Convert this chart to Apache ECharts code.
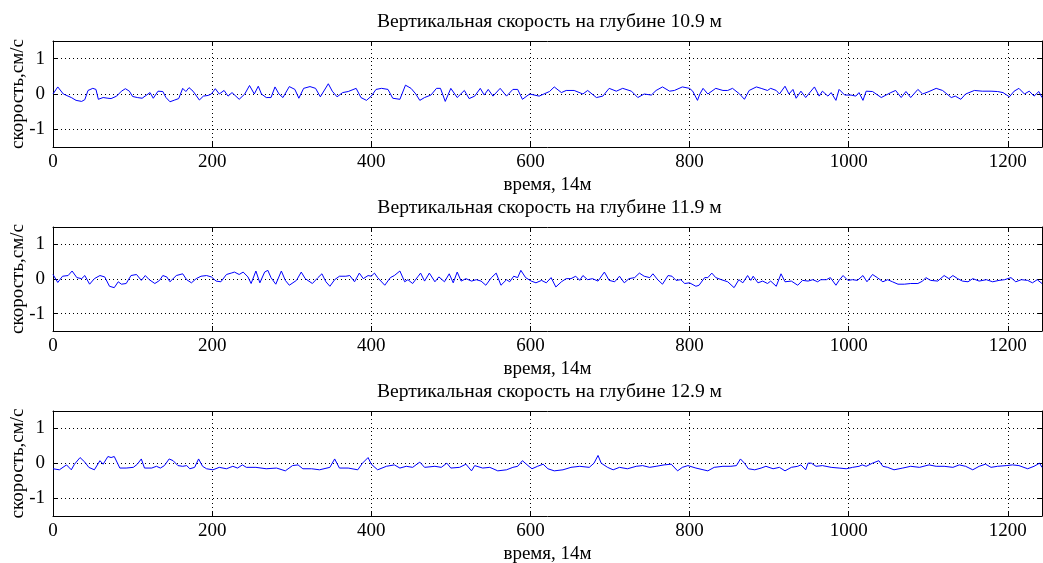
<!DOCTYPE html>
<html>
<head>
<meta charset="utf-8">
<script src="https://cdn.jsdelivr.net/npm/echarts@6/dist/echarts.min.js"></script>
<style>
html,body{margin:0;padding:0;background:#fff;}
#chart{width:1043px;height:563px;}
</style>
</head>
<body>
<div id="chart"></div>
<script>
const titles = ['Вертикальная скорость на глубине 10.9 м','Вертикальная скорость на глубине 11.9 м','Вертикальная скорость на глубине 12.9 м'];
const xName = 'время, 14м';
const yName = 'скорость,см/с';

const t1 = [0,6,13,16,23,29,36,40,44,50,54,57,63,69,73,80,86,91,96,100,106,112,117,122,126,132,138,142,147,153,158,163,167,171,176,184,189,195,199,204,209,215,220,225,234,241,247,253,258,262,268,274,279,284,289,297,304,309,315,323,330,336,346,351,357,364,371,381,387,394,400,406,413,421,427,436,443,450,456,461,467,475,482,487,493,500,508,517,523,530,537,542,547,553,562,570,578,584,590,599,611,624,630,639,645,655,666,672,683,691,699,708,716,727,735,743,752,758,766,775,781,791,800,804,810,813,817,823,833,842,848,854,863,869,875,884,890,898,902,909,913,920,925,930,934,940,946,957,963,967,974,978,984,988,995,1003,1009,1013,1018,1022,1030,1041,1047,1053,1059,1066,1072,1078,1087,1093,1101,1110,1118,1129,1134,1141,1147,1158,1168,1179,1187,1194,1202,1208,1214,1221,1227,1233,1239,1243];
const v1 = [0,0.2,0,-0.03,-0.1,-0.18,-0.21,-0.16,0.1,0.16,0.13,-0.15,-0.1,-0.12,-0.13,-0.06,0.08,0.15,0.08,-0.07,-0.1,-0.12,-0.04,0.04,-0.12,0.08,0.07,-0.1,-0.22,-0.17,-0.13,0.16,0.07,0.18,0.08,-0.17,-0.06,-0.04,0,0.15,0,0.1,-0.06,0.04,-0.15,0,0.24,0,0.22,0,-0.1,-0.1,0.2,0,-0.1,0.21,0.13,-0.12,0.16,0.21,0.16,-0.08,0.29,0.08,-0.08,0.04,0.07,0.16,-0.1,-0.18,-0.06,0.13,0.16,0.13,-0.12,-0.15,0.25,0.16,0,-0.18,-0.1,-0.03,0.16,0.16,-0.21,0.16,-0.1,0.1,-0.13,-0.06,0.16,-0.03,0.13,-0.06,0.16,-0.06,0.13,0.13,-0.15,0,-0.06,0.07,0.2,0.04,0.1,0.1,0,0.1,-0.1,-0.06,0.16,0.08,0.16,0.08,-0.1,0,-0.03,0.1,0.2,0.08,0.1,0.2,0.16,0.08,-0.18,0,0.16,0,0.16,0.1,0.1,0.16,0,-0.15,0.1,0.2,0.16,0.1,0.16,0.1,0,0.22,0,0.13,-0.12,0.08,-0.1,0.2,-0.06,0.08,-0.06,0.04,-0.18,0.13,-0.03,-0.03,-0.06,0.04,-0.18,0.08,0.07,-0.1,-0.03,0.04,0.1,-0.1,0.07,-0.1,0.13,0,0.07,0.16,0.1,-0.1,-0.06,-0.15,0,0.1,0.08,0.08,0.07,0.04,-0.08,0.08,0.16,0,0.08,-0.06,0.07,-0.1];

const t2 = [0,6,12,19,24,30,36,40,46,52,59,65,71,77,82,86,92,98,105,111,116,121,128,134,138,143,147,155,163,168,174,180,186,193,199,205,211,218,224,228,234,239,245,249,255,260,266,270,274,280,287,292,297,306,312,317,326,333,338,343,348,354,360,368,373,379,385,390,396,400,404,408,417,424,429,436,442,446,452,459,462,467,473,480,485,492,498,503,508,513,519,526,532,538,544,551,557,563,570,574,579,584,588,594,601,607,614,620,626,632,639,645,651,657,662,666,672,678,685,693,699,706,712,718,724,731,737,743,750,754,760,766,773,778,783,789,794,800,808,812,819,823,828,833,840,848,856,862,867,873,877,880,886,892,898,902,909,915,920,928,936,942,949,955,961,965,972,977,984,988,993,999,1005,1011,1018,1023,1030,1036,1043,1049,1055,1062,1070,1078,1087,1093,1097,1103,1112,1120,1126,1131,1137,1143,1150,1156,1164,1173,1181,1189,1196,1204,1210,1217,1225,1231,1237,1243];
const v2 = [0.13,-0.1,0.08,0.1,0.23,0.04,0.01,0.1,-0.15,0.01,0.1,0.06,-0.21,-0.25,-0.08,-0.15,-0.13,0.1,0.13,-0.04,0.1,-0.02,-0.13,-0.04,0.1,0.06,-0.08,0.1,0.15,-0.02,-0.11,0.01,0.08,0.1,0.06,-0.06,-0.08,0.13,0.17,0.2,0.13,0.2,0.06,-0.13,0.23,-0.11,0.2,0.25,0.04,-0.15,0.23,-0.04,-0.18,-0.04,0.2,0.01,-0.13,0.04,0.15,-0.08,-0.21,-0.02,0.08,0.08,0.1,-0.08,0.17,0.01,0.1,0.08,0.17,0.04,-0.18,0.04,0.1,0.23,-0.08,-0.02,-0.13,0.08,0.17,-0.06,0.17,-0.08,0.06,-0.08,0.15,-0.11,0.2,-0.06,0.01,-0.06,-0.02,-0.06,-0.18,0.04,0.17,-0.18,-0.02,-0.08,0.08,0.04,0.25,0.04,-0.06,-0.11,-0.04,-0.11,0.04,-0.23,-0.08,0.01,0.01,0.08,-0.04,0.1,-0.02,0.01,-0.06,0.2,-0.04,-0.08,0.08,-0.11,0.01,0.04,0.17,0.08,0.04,0.15,-0.02,-0.15,0.1,0.08,-0.04,-0.02,-0.13,-0.11,-0.21,-0.18,0.04,0.04,0.17,0.04,-0.02,-0.08,-0.25,-0.02,-0.11,0.1,-0.04,0.08,-0.11,-0.06,-0.13,-0.06,-0.21,0.15,-0.08,-0.06,-0.18,-0.04,-0.06,-0.02,-0.08,-0.02,-0.02,0.04,-0.18,-0.04,0.1,-0.04,-0.02,-0.04,0.1,-0.08,0.13,0.04,-0.08,-0.02,-0.08,-0.15,-0.15,-0.13,-0.13,-0.06,0.04,-0.04,-0.06,0.1,0.01,0.1,0.01,-0.06,-0.08,0.01,-0.06,-0.02,-0.08,-0.04,-0.02,0.04,-0.08,-0.02,-0.04,-0.11,-0.02,-0.13];

const t3 = [0,8,17,23,27,34,40,45,52,59,63,69,73,77,84,92,101,106,111,115,124,130,135,140,146,151,157,163,168,172,178,183,188,193,201,209,218,226,232,238,243,255,268,281,292,301,308,314,325,335,348,354,360,371,383,389,396,400,408,419,429,436,444,452,461,467,480,488,495,500,511,519,526,530,540,549,559,570,578,584,590,597,602,609,616,622,630,641,651,662,674,680,685,689,697,704,712,722,733,741,750,758,768,777,785,791,798,808,823,831,842,852,859,864,869,874,882,890,896,905,913,920,928,936,940,946,949,953,959,967,978,988,997,1005,1013,1017,1022,1030,1038,1043,1049,1057,1068,1078,1089,1101,1110,1120,1131,1139,1147,1156,1164,1172,1179,1187,1198,1206,1214,1225,1233,1240,1243];
const v3 = [-0.15,-0.18,-0.04,-0.18,-0.02,0.17,0.04,-0.11,-0.18,0.08,-0.02,0.2,0.17,0.2,-0.13,-0.13,-0.11,-0.02,0.13,-0.13,-0.13,-0.08,-0.13,-0.06,0.13,0.08,-0.06,-0.08,-0.06,-0.15,-0.11,0.13,-0.08,-0.15,-0.18,-0.11,-0.15,-0.08,-0.13,-0.04,-0.11,-0.11,-0.15,-0.13,-0.21,-0.06,-0.04,-0.15,-0.15,-0.18,-0.11,0.13,-0.13,-0.13,-0.18,0.01,0.17,-0.02,-0.18,-0.08,-0.04,-0.13,-0.08,-0.11,0.04,-0.11,-0.08,-0.11,0.01,-0.13,-0.11,-0.02,-0.21,-0.06,-0.13,-0.11,-0.21,-0.18,-0.11,-0.08,0.08,-0.06,-0.15,-0.08,-0.02,-0.15,-0.21,-0.18,-0.11,-0.08,-0.11,0.01,0.23,0.01,-0.11,-0.18,-0.11,-0.15,-0.08,-0.06,-0.11,-0.08,-0.04,-0.02,-0.21,-0.11,-0.06,-0.13,-0.21,-0.11,-0.08,-0.08,-0.06,0.13,0.01,-0.15,-0.18,-0.13,-0.08,-0.15,-0.11,-0.21,-0.11,-0.08,-0.04,-0.18,0.01,0.01,-0.08,-0.06,-0.11,-0.13,-0.15,-0.11,-0.08,-0.04,-0.08,0.01,0.08,-0.08,-0.11,-0.18,-0.13,-0.08,-0.11,-0.04,-0.08,-0.08,-0.11,-0.04,-0.08,-0.18,-0.08,-0.02,-0.11,-0.08,-0.06,-0.04,-0.06,-0.15,-0.08,0.01,-0.11];

const xTicks = [0,200,400,600,800,1000,1200];
const yTicks = [-1,0,1];
const X_MAX = 1243;

const FONT = 'Liberation Serif';
const gridsPos = [{top:41,height:106},{top:227,height:104},{top:411,height:105}];
const titleTops = [7,193,377];

const pairs = (t,v) => t.map((x,i)=>[x,v[i]]);
const series = [pairs(t1,v1), pairs(t2,v2), pairs(t3,v3)];

const txt = {color:'#000', fontFamily:FONT, fontSize:19};
const grid = [], xAxis = [], yAxis = [], title = [], ser = [];
gridsPos.forEach((g,i)=>{
  grid.push({left:53, width:989, top:g.top, height:g.height, show:false,
    containLabel:false, outerBoundsMode:'none'});
  title.push({text:titles[i], left:544.5, textAlign:'center', top:titleTops[i],
    textStyle:{color:'#000', fontFamily:FONT, fontSize:19.6, fontWeight:'normal'}});
  const xb = {gridIndex:i, type:'value', min:0, max:X_MAX, interval:200,
    axisLine:{show:true, onZero:false, lineStyle:{color:'#000', width:1}},
    axisTick:{show:true, inside:true, length:5, lineStyle:{color:'#000'}}};
  xAxis.push(Object.assign({}, xb, {position:'bottom',
    axisLabel:Object.assign({show:true, margin:6, showMaxLabel:false,
      formatter:(v)=> xTicks.indexOf(v)>=0 ? String(v) : ''}, txt),
    splitLine:{show:true, lineStyle:{color:'#000', width:1, type:[1,3]}},
    name:xName, nameLocation:'middle', nameGap:29, nameMoveOverlap:false, nameTextStyle:txt}));
  xAxis.push(Object.assign({}, xb, {position:'top', axisLabel:{show:false}, splitLine:{show:false}}));
  const yb = {gridIndex:i, type:'value', min:-1.5, max:1.5, splitNumber:3,
    axisLine:{show:true, onZero:false, lineStyle:{color:'#000', width:1}},
    axisTick:{show:true, inside:true, length:5, lineStyle:{color:'#000'}}};
  yAxis.push(Object.assign({}, yb, {position:'left',
    axisLabel:Object.assign({show:true, margin:8, showMinLabel:false, showMaxLabel:false,
      formatter:(v)=> yTicks.indexOf(v)>=0 ? String(v) : ''}, txt),
    splitLine:{show:true, lineStyle:{color:'#000', width:1, type:[1,3]}},
    name:yName, nameLocation:'middle', nameGap:25, nameMoveOverlap:false, nameTextStyle:txt}));
  yAxis.push(Object.assign({}, yb, {position:'right', axisLabel:{show:false}, splitLine:{show:false}}));
  ser.push({type:'line', xAxisIndex:2*i, yAxisIndex:2*i, data:series[i], showSymbol:false,
    symbol:'none', lineStyle:{color:'#0000ff', width:1}, silent:true});
});

const chart = echarts.init(document.getElementById('chart'), null, {renderer:'canvas'});
chart.setOption({animation:false, backgroundColor:'#fff', title, grid, xAxis, yAxis, series:ser});
</script>
</body>
</html>
